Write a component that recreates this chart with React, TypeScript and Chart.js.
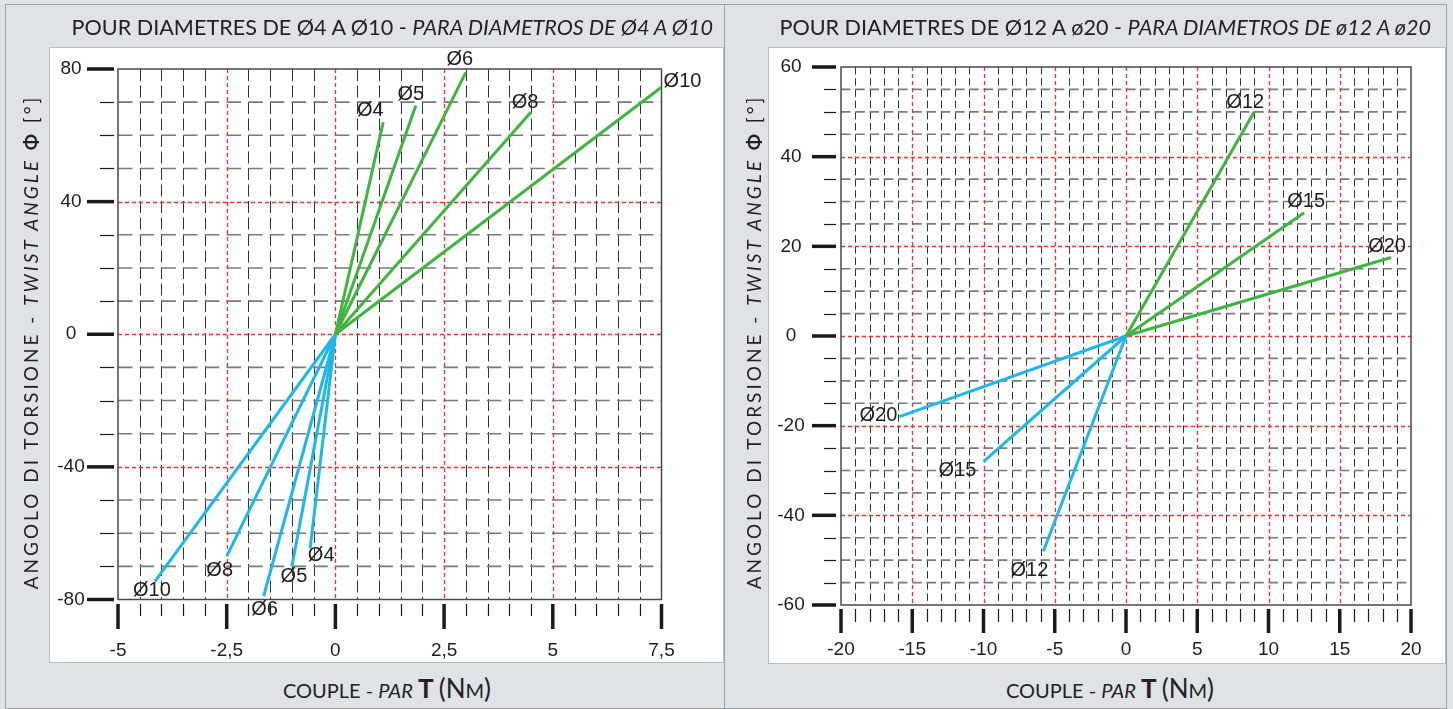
import React, { useEffect, useRef } from "react";
import { Chart, registerables } from "chart.js";

Chart.register(...registerables);

// ---------------- LEFT PANEL DATA (Ø4 … Ø10) ----------------
const LEFT_X_MAJOR = [-5, -2.5, 0, 2.5, 5, 7.5];
const LEFT_X_LABELS = ["-5", "-2,5", "0", "2,5", "5", "7,5"];
const LEFT_Y_MAJOR = [-80, -40, 0, 40, 80];
const LEFT_Y_LABELS = ["-80", "-40", "0", "40", "80"];
const LEFT_RED_X = [-2.5, 0, 2.5, 5];
const LEFT_RED_Y = [-40, 0, 40];

const LEFT_POS_NAMES = ["Ø4", "Ø5", "Ø6", "Ø8", "Ø10"];
const LEFT_POS_TORQUE = [1.1, 1.85, 3.0, 4.5, 7.5];
const LEFT_POS_ANGLE = [64, 69, 79, 67, 74.5];
const LEFT_NEG_NAMES = ["Ø10", "Ø8", "Ø6", "Ø5", "Ø4"];
const LEFT_NEG_TORQUE = [-4.15, -2.5, -1.65, -1.0, -0.58];
const LEFT_NEG_ANGLE = [-74.5, -67, -79, -70, -64.5];

// label offsets (pixels, from line end)
const LEFT_POS_OFFSETS = [[-13, -12], [-5, -11], [-6, -13], [-6, -10], [21, -6]];
const LEFT_NEG_OFFSETS = [[-3, 9], [-7, 14], [1, 13], [2, 10], [11, 7]];

// ---------------- RIGHT PANEL DATA (Ø12 … Ø20) ----------------
const RIGHT_X_MAJOR = [-20, -15, -10, -5, 0, 5, 10, 15, 20];
const RIGHT_X_LABELS = ["-20", "-15", "-10", "-5", "0", "5", "10", "15", "20"];
const RIGHT_Y_MAJOR = [-60, -40, -20, 0, 20, 40, 60];
const RIGHT_Y_LABELS = ["-60", "-40", "-20", "0", "20", "40", "60"];
const RIGHT_RED_X = [-15, -10, -5, 0, 5, 10, 15];
const RIGHT_RED_Y = [-40, -20, 0, 20, 40];

const RIGHT_POS_NAMES = ["Ø12", "Ø15", "Ø20"];
const RIGHT_POS_TORQUE = [9, 12.5, 18.6];
const RIGHT_POS_ANGLE = [50, 27.5, 17.5];
const RIGHT_NEG_NAMES = ["Ø20", "Ø15", "Ø12"];
const RIGHT_NEG_TORQUE = [-15.9, -10, -5.8];
const RIGHT_NEG_ANGLE = [-18, -28, -48];

const RIGHT_POS_OFFSETS = [[-9, -9], [2, -11], [-4, -11]];
const RIGHT_NEG_OFFSETS = [[-21, -1], [-26, 9], [-14, 19]];

const GREEN = "#3fb43f";
const CYAN = "#1cb8ec";
const RED = "#ff2a2a";

type PanelCfg = {
  width: number;
  height: number;
  padding: { left: number; right: number; top: number; bottom: number };
  xMin: number; xMax: number; yMin: number; yMax: number;
  xGridStep: number; yGridStep: number;
  xMinorStep: number; yMinorStep: number;
  xMajor: number[]; xLabels: string[];
  yMajor: number[]; yLabels: string[];
  redX: number[]; redY: number[];
  vDash: number[]; hDash: number[];
  yLabelDX: number; xLabelDY: number;
  yTickMajor: [number, number]; yTickMinor: [number, number];
  xTickMajor: [number, number]; xTickMinor: [number, number];
  posNames: string[]; posT: number[]; posA: number[]; posOff: number[][];
  negNames: string[]; negT: number[]; negA: number[]; negOff: number[][];
};

const near = (a: number, b: number) => Math.abs(a - b) < 1e-6;

function steps(min: number, max: number, step: number): number[] {
  const n = Math.round((max - min) / step);
  const out: number[] = [];
  for (let i = 0; i <= n; i++) out.push(min + i * step);
  return out;
}

function makePlugin(cfg: PanelCfg) {
  return {
    id: "customAxes",
    beforeDatasetsDraw(chart: any) {
      const { ctx, chartArea: a } = chart;
      const xs = chart.scales.x;
      const ys = chart.scales.y;
      ctx.save();
      // vertical gray grid
      ctx.strokeStyle = "#333";
      ctx.lineWidth = 1;
      ctx.setLineDash(cfg.vDash);
      for (const v of steps(cfg.xMin, cfg.xMax, cfg.xGridStep)) {
        if (near(v, cfg.xMin) || near(v, cfg.xMax)) continue;
        if (cfg.redX.some((r) => near(r, v))) continue;
        const px = Math.round(xs.getPixelForValue(v)) + 0.5;
        ctx.beginPath();
        ctx.moveTo(px, a.top);
        ctx.lineTo(px, a.bottom);
        ctx.stroke();
      }
      // horizontal gray grid
      ctx.strokeStyle = "#7a7a7a";
      ctx.lineWidth = 1.6;
      ctx.setLineDash(cfg.hDash);
      for (const v of steps(cfg.yMin, cfg.yMax, cfg.yGridStep)) {
        if (near(v, cfg.yMin) || near(v, cfg.yMax)) continue;
        if (cfg.redY.some((r) => near(r, v))) continue;
        const py = ys.getPixelForValue(v);
        ctx.beginPath();
        ctx.moveTo(a.left, py);
        ctx.lineTo(a.right, py);
        ctx.stroke();
      }
      // red dotted lines
      ctx.strokeStyle = RED;
      ctx.lineWidth = 1.3;
      ctx.setLineDash([4, 3]);
      for (const v of cfg.redX) {
        const px = Math.round(xs.getPixelForValue(v)) + 0.5;
        ctx.beginPath();
        ctx.moveTo(px, a.top);
        ctx.lineTo(px, a.bottom);
        ctx.stroke();
      }
      for (const v of cfg.redY) {
        const py = Math.round(ys.getPixelForValue(v)) + 0.5;
        ctx.beginPath();
        ctx.moveTo(a.left, py);
        ctx.lineTo(a.right, py);
        ctx.stroke();
      }
      // border
      ctx.setLineDash([]);
      ctx.strokeStyle = "#4a4a4a";
      ctx.lineWidth = 1.5;
      ctx.strokeRect(a.left, a.top, a.right - a.left, a.bottom - a.top);
      ctx.restore();
    },
    afterDatasetsDraw(chart: any) {
      const { ctx } = chart;
      const xs = chart.scales.x;
      const ys = chart.scales.y;
      ctx.save();
      ctx.fillStyle = "#1e1e1e";
      ctx.font = "20px 'Liberation Sans', Arial, sans-serif";
      ctx.textAlign = "center";
      ctx.textBaseline = "middle";
      const put = (names: string[], t: number[], an: number[], off: number[][]) => {
        names.forEach((n, i) => {
          const px = xs.getPixelForValue(t[i]) + off[i][0];
          const py = ys.getPixelForValue(an[i]) + off[i][1];
          ctx.fillText(n, px, py);
        });
      };
      put(cfg.posNames, cfg.posT, cfg.posA, cfg.posOff);
      put(cfg.negNames, cfg.negT, cfg.negA, cfg.negOff);
      ctx.restore();
    },
    afterDraw(chart: any) {
      const { ctx, chartArea: a } = chart;
      const xs = chart.scales.x;
      const ys = chart.scales.y;
      ctx.save();
      ctx.strokeStyle = "#1a1a1a";
      // y minor ticks
      ctx.lineWidth = 1.2;
      for (const v of steps(cfg.yMin, cfg.yMax, cfg.yMinorStep)) {
        if (cfg.yMajor.some((m) => near(m, v))) continue;
        const py = Math.round(ys.getPixelForValue(v)) + 0.5;
        ctx.beginPath();
        ctx.moveTo(a.left - cfg.yTickMinor[0], py);
        ctx.lineTo(a.left - cfg.yTickMinor[1], py);
        ctx.stroke();
      }
      // x minor ticks
      for (const v of steps(cfg.xMin, cfg.xMax, cfg.xMinorStep)) {
        if (cfg.xMajor.some((m) => near(m, v))) continue;
        const px = Math.round(xs.getPixelForValue(v)) + 0.5;
        ctx.beginPath();
        ctx.moveTo(px, a.bottom + cfg.xTickMinor[0]);
        ctx.lineTo(px, a.bottom + cfg.xTickMinor[1]);
        ctx.stroke();
      }
      // major ticks
      ctx.lineWidth = 3.5;
      for (const v of cfg.yMajor) {
        const py = ys.getPixelForValue(v);
        ctx.beginPath();
        ctx.moveTo(a.left - cfg.yTickMajor[0], py);
        ctx.lineTo(a.left - cfg.yTickMajor[1], py);
        ctx.stroke();
      }
      for (const v of cfg.xMajor) {
        const px = xs.getPixelForValue(v);
        ctx.beginPath();
        ctx.moveTo(px, a.bottom + cfg.xTickMajor[0]);
        ctx.lineTo(px, a.bottom + cfg.xTickMajor[1]);
        ctx.stroke();
      }
      // labels
      ctx.fillStyle = "#1e1e1e";
      ctx.font = "19px 'Liberation Sans', Arial, sans-serif";
      ctx.textAlign = "center";
      ctx.textBaseline = "middle";
      cfg.yMajor.forEach((v, i) => {
        ctx.fillText(cfg.yLabels[i], a.left - cfg.yLabelDX, ys.getPixelForValue(v));
      });
      cfg.xMajor.forEach((v, i) => {
        ctx.fillText(cfg.xLabels[i], xs.getPixelForValue(v), a.bottom + cfg.xLabelDY);
      });
      ctx.restore();
    },
  };
}

function PanelChart({ cfg }: { cfg: PanelCfg }) {
  const ref = useRef<HTMLCanvasElement | null>(null);
  useEffect(() => {
    if (!ref.current) return;
    const mk = (t: number[], an: number[], color: string) =>
      t.map((tv, i) => ({
        data: [
          { x: 0, y: 0 },
          { x: tv, y: an[i] },
        ],
        showLine: true,
        borderColor: color,
        backgroundColor: color,
        borderWidth: 3,
        pointRadius: 0,
        fill: false,
      }));
    const chart = new Chart(ref.current, {
      type: "scatter",
      data: {
        datasets: [...mk(cfg.posT, cfg.posA, GREEN), ...mk(cfg.negT, cfg.negA, CYAN)] as any,
      },
      options: {
        animation: false,
        responsive: false,
        devicePixelRatio: 1,
        events: [],
        layout: { padding: cfg.padding },
        plugins: {
          legend: { display: false },
          tooltip: { enabled: false },
        },
        scales: {
          x: { type: "linear", min: cfg.xMin, max: cfg.xMax, display: false },
          y: { type: "linear", min: cfg.yMin, max: cfg.yMax, display: false },
        },
      },
      plugins: [makePlugin(cfg) as any],
    });
    return () => chart.destroy();
  }, [cfg]);
  return (
    <canvas
      ref={ref}
      width={cfg.width}
      height={cfg.height}
      style={{ display: "block", width: cfg.width, height: cfg.height }}
    />
  );
}

const LEFT_CFG: PanelCfg = {
  width: 673,
  height: 614,
  padding: { left: 68, right: 61.5, top: 21, bottom: 62.5 },
  xMin: -5, xMax: 7.5, yMin: -80, yMax: 80,
  xGridStep: 0.5, yGridStep: 10, xMinorStep: 0.5, yMinorStep: 10,
  xMajor: LEFT_X_MAJOR, xLabels: LEFT_X_LABELS,
  yMajor: LEFT_Y_MAJOR, yLabels: LEFT_Y_LABELS,
  redX: LEFT_RED_X, redY: LEFT_RED_Y,
  vDash: [12, 4.5], hDash: [14.5, 7.2],
  yLabelDX: 47, xLabelDY: 51,
  yTickMajor: [31, 4], yTickMinor: [18, 4],
  xTickMajor: [4.5, 29.5], xTickMinor: [4.5, 16.5],
  posNames: LEFT_POS_NAMES, posT: LEFT_POS_TORQUE, posA: LEFT_POS_ANGLE, posOff: LEFT_POS_OFFSETS,
  negNames: LEFT_NEG_NAMES, negT: LEFT_NEG_TORQUE, negA: LEFT_NEG_ANGLE, negOff: LEFT_NEG_OFFSETS,
};

const RIGHT_CFG: PanelCfg = {
  width: 676,
  height: 615,
  padding: { left: 72, right: 34, top: 19, bottom: 58 },
  xMin: -20, xMax: 20, yMin: -60, yMax: 60,
  xGridStep: 1, yGridStep: 5, xMinorStep: 1, yMinorStep: 5,
  xMajor: RIGHT_X_MAJOR, xLabels: RIGHT_X_LABELS,
  yMajor: RIGHT_Y_MAJOR, yLabels: RIGHT_Y_LABELS,
  redX: RIGHT_RED_X, redY: RIGHT_RED_Y,
  vDash: [7.5, 3.7], hDash: [9.5, 4.75],
  yLabelDX: 50, xLabelDY: 45,
  yTickMajor: [29, 5], yTickMinor: [17, 5],
  xTickMajor: [4, 28], xTickMinor: [4, 17],
  posNames: RIGHT_POS_NAMES, posT: RIGHT_POS_TORQUE, posA: RIGHT_POS_ANGLE, posOff: RIGHT_POS_OFFSETS,
  negNames: RIGHT_NEG_NAMES, negT: RIGHT_NEG_TORQUE, negA: RIGHT_NEG_ANGLE, negOff: RIGHT_NEG_OFFSETS,
};

const UI_FONT = "Lato, 'Open Sans', sans-serif";
const TEXT = "#222";
const BAND = "#dfe3e6";
const FRAME = "#98a4ad";

function YTitle({ cx, cy }: { cx: number; cy: number }) {
  return (
    <div
      style={{
        position: "absolute",
        left: cx,
        top: cy,
        transform: "translate(-50%, -50%) rotate(-90deg)",
        whiteSpace: "nowrap",
        fontFamily: UI_FONT,
        fontSize: 19,
        letterSpacing: 3,
        color: TEXT,
        lineHeight: 1,
      }}
    >
      ANGOLO DI TORSIONE - <i>TWIST ANGLE</i> <b>Φ</b> [°]
    </div>
  );
}

function XTitle({ cx, cy }: { cx: number; cy: number }) {
  return (
    <div
      style={{
        position: "absolute",
        left: cx,
        top: cy,
        transform: "translate(-50%, -50%)",
        whiteSpace: "nowrap",
        fontFamily: UI_FONT,
        fontSize: 20,
        color: TEXT,
        lineHeight: 1,
      }}
    >
      COUPLE - <i>PAR</i> <b style={{ fontSize: 26 }}>T</b>{" "}
      <span style={{ fontSize: 26 }}>(N</span>M<span style={{ fontSize: 26 }}>)</span>
    </div>
  );
}

function Title({ right, top, children }: { right: number; top: number; children: React.ReactNode }) {
  return (
    <div
      style={{
        position: "absolute",
        right: 1453 - right,
        top,
        whiteSpace: "nowrap",
        fontFamily: UI_FONT,
        fontSize: 21.6,
        color: TEXT,
        lineHeight: 1,
      }}
    >
      {children}
    </div>
  );
}

export default function App() {
  return (
    <div
      style={{
        position: "absolute",
        left: 0,
        top: 0,
        width: 1453,
        height: 709,
        background: BAND,
        overflow: "hidden",
      }}
    >
      {/* left panel frame */}
      <div
        style={{
          position: "absolute",
          left: 5,
          top: 4,
          width: 720,
          height: 705,
          border: `1.5px solid ${FRAME}`,
          boxSizing: "border-box",
        }}
      />
      {/* right panel frame */}
      <div
        style={{
          position: "absolute",
          left: 724,
          top: 4,
          width: 723,
          height: 705,
          border: `1.5px solid ${FRAME}`,
          boxSizing: "border-box",
        }}
      />
      {/* left white area */}
      <div
        style={{
          position: "absolute",
          left: 50,
          top: 48,
          width: 673,
          height: 614,
          background: "#fff",
          outline: "1px solid #b4c0c8",
        }}
      >
        <PanelChart cfg={LEFT_CFG} />
      </div>
      {/* right white area */}
      <div
        style={{
          position: "absolute",
          left: 769,
          top: 48,
          width: 676,
          height: 615,
          background: "#fff",
          outline: "1px solid #b4c0c8",
        }}
      >
        <PanelChart cfg={RIGHT_CFG} />
      </div>

      <Title right={713} top={17}>
        POUR DIAMETRES DE Ø4 A Ø10 - <i>PARA DIAMETROS DE Ø4 A Ø10</i>
      </Title>
      <Title right={1431} top={17}>
        POUR DIAMETRES DE Ø12 A ø20 - <i>PARA DIAMETROS DE ø12 A ø20</i>
      </Title>

      <YTitle cx={30} cy={342} />
      <YTitle cx={753} cy={342} />
      <XTitle cx={387} cy={688} />
      <XTitle cx={1110} cy={688} />
    </div>
  );
}
